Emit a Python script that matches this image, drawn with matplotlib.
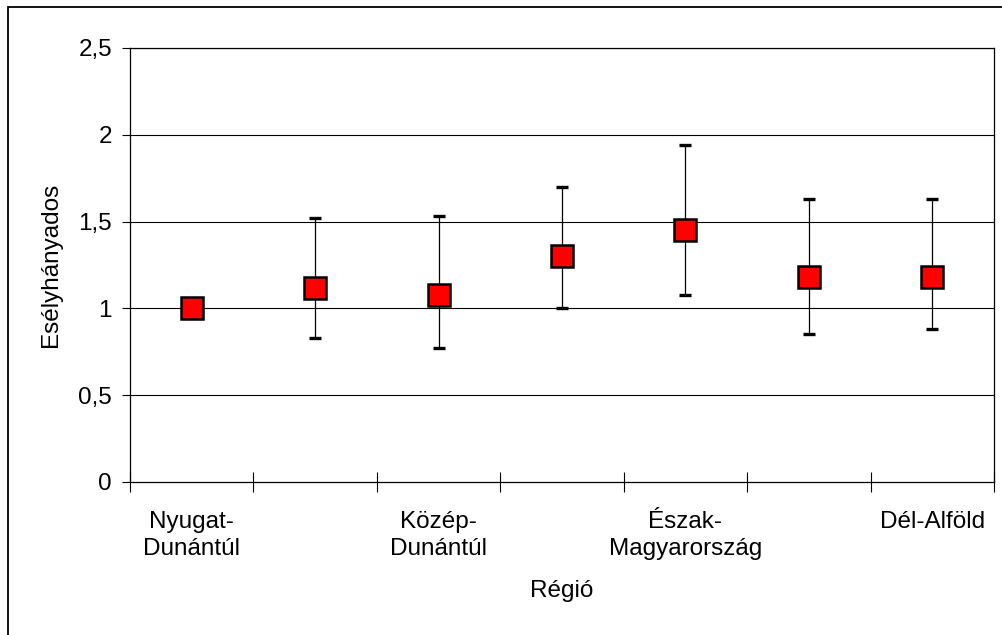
import matplotlib
matplotlib.use("Agg")
import matplotlib.pyplot as plt
from matplotlib.patches import Rectangle
from matplotlib.ticker import FixedLocator, NullFormatter

plt.rcParams["font.family"] = ["Liberation Sans", "DejaVu Sans"]

# Odds ratios by region with confidence limits (first region is the reference)
tick_labels = ["Nyugat-\nDunántúl", "", "Közép-\nDunántúl", "",
               "Észak-\nMagyarország", "", "Dél-Alföld"]
odds_ratio = [1.00, 1.12, 1.08, 1.30, 1.45, 1.18, 1.18]
ci_low = [1.00, 0.83, 0.77, 1.00, 1.08, 0.85, 0.88]
ci_high = [1.00, 1.52, 1.53, 1.70, 1.94, 1.63, 1.63]
y_ticks = [0, 0.5, 1, 1.5, 2, 2.5]
y_tick_labels = ["0", "0,5", "1", "1,5", "2", "2,5"]

FS = 17.5
n = len(odds_ratio)
x = list(range(n))

fig = plt.figure(figsize=(10.03, 6.35), dpi=100)
ax = fig.add_axes([130 / 1003, 1 - 482 / 635, 864 / 1003, 434 / 635])

# whole-chart frame (only left and top edges fall inside the image)
fig.patches.append(Rectangle((8 / 1003, -0.1), 1.2, 1 - 7 / 635 + 0.1,
                             transform=fig.transFigure, fill=False,
                             edgecolor="black", linewidth=1.3, zorder=0))

ax.set_xlim(-0.5, n - 0.5)
ax.set_ylim(0, 2.5)

for y in y_ticks[1:]:
    ax.axhline(y, color="black", linewidth=0.8, zorder=1)

yerr_lo = [v - lo for v, lo in zip(odds_ratio, ci_low)]
yerr_hi = [hi - v for v, hi in zip(odds_ratio, ci_high)]
for i in range(n):
    if ci_low[i] == ci_high[i]:
        continue
    ax.errorbar(x[i], odds_ratio[i], yerr=[[yerr_lo[i]], [yerr_hi[i]]],
                fmt="none", ecolor="black", elinewidth=0.9,
                capsize=4, capthick=2.4, zorder=2)

ax.plot(x, odds_ratio, linestyle="none", marker="s", markersize=15.5,
        markerfacecolor="#ff0000", markeredgecolor="black",
        markeredgewidth=1.8, zorder=3)

ax.set_yticks(y_ticks)
ax.set_yticklabels(y_tick_labels, fontsize=FS)
ax.tick_params(axis="y", direction="out", length=6, width=0.8, pad=7)

# category labels at centres, boundary ticks between categories
ax.set_xticks(x)
ax.set_xticklabels(tick_labels, fontsize=FS, linespacing=1.3)
ax.tick_params(axis="x", which="major", length=0, pad=21)
ax.xaxis.set_minor_locator(FixedLocator([i - 0.5 for i in range(n + 1)]))
ax.xaxis.set_minor_formatter(NullFormatter())
ax.tick_params(axis="x", which="minor", direction="inout", length=14, width=0.8)

for s in ax.spines.values():
    s.set_color("black")
    s.set_linewidth(0.9)

ax.set_xlabel("Régió", fontsize=FS, labelpad=14)
ax.set_ylabel("Esélyhányados", fontsize=FS, labelpad=12)

fig.savefig("out.png", dpi=100)
